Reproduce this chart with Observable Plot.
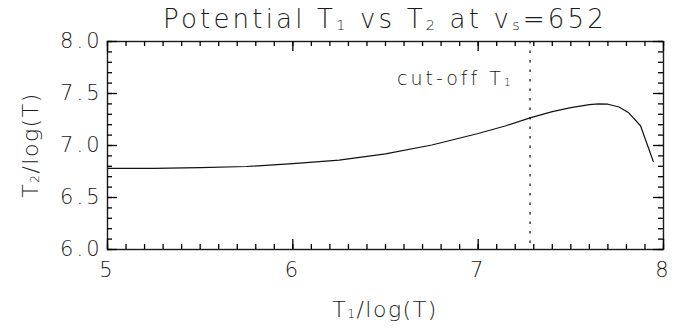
<!DOCTYPE html>
<html>
<head>
<meta charset="utf-8">
<script src="https://cdn.jsdelivr.net/npm/d3@7"></script>
<script src="https://cdn.jsdelivr.net/npm/@observablehq/plot@0.6"></script>
<style>
  html, body { margin: 0; padding: 0; background: #fff; }
  #chart svg { display: block; background: #fff; font-family: 'DejaVu Sans', sans-serif; }
</style>
</head>
<body>
<div id="chart"></div>
<script>
// Potential T1 (log T) against the resulting T2 (log T) for a shock speed of 652
const t1 = [5.00, 5.25, 5.50, 5.75, 6.00, 6.25, 6.50, 6.75, 7.00, 7.15, 7.28, 7.40, 7.50, 7.60, 7.65, 7.70, 7.76, 7.81, 7.876, 7.945];
const t2 = [6.780, 6.781, 6.787, 6.798, 6.825, 6.860, 6.920, 7.005, 7.115, 7.190, 7.265, 7.325, 7.365, 7.393, 7.400, 7.397, 7.370, 7.318, 7.190, 6.846];
const cutoffT1 = 7.28;
const shockSpeed = 652;

const xMajor = [5, 6, 7, 8];
const yMajor = [6.0, 6.5, 7.0, 7.5, 8.0];
const xMinor = d3.range(50, 81).map(i => i / 10);
const yMinor = d3.range(60, 81).map(i => i / 10);

const data = t1.map((x, i) => ({x, y: t2[i]}));

const W = 697, H = 335;
const mL = 107, mR = 34, mT = 41, mB = 86;
const plotW = W - mL - mR, plotH = H - mT - mB;
const FONT = "'DejaVu Sans', sans-serif";
const WEIGHT = 200;
const INK = "#1a1a1a";
const majorLen = 10, minorLen = 5;

const tickStyle = {stroke: "#000", strokeWidth: 1.3};
const labelStyle = {fill: INK, fontSize: 21, fontFamily: FONT, fontWeight: WEIGHT};

const chart = Plot.plot({
  width: W,
  height: H,
  marginLeft: mL,
  marginRight: mR,
  marginTop: mT,
  marginBottom: mB,
  x: {domain: [5, 8], axis: null},
  y: {domain: [6, 8], axis: null},
  marks: [
    // tick labels
    Plot.text(xMajor, {x: d => d, frameAnchor: "bottom", lineAnchor: "top", dy: 13, text: d => String(d), ...labelStyle}),
    Plot.text(yMajor, {y: d => d, frameAnchor: "left", textAnchor: "end", dx: -5, text: d3.format(".1f"), ...labelStyle}),
    Plot.ruleX([cutoffT1], {x: d => d, stroke: INK, strokeWidth: 1.3, strokeDasharray: "2.5,7"}),
    Plot.line(data, {x: "x", y: "y", stroke: "#111", strokeWidth: 1.2}),
    Plot.frame({stroke: INK, strokeWidth: 1.4}),
    // inward ticks on all four sides: minor every 0.1, major at the labelled values
    Plot.ruleX(xMinor, {x: d => d, insetTop: plotH - minorLen, ...tickStyle}),
    Plot.ruleX(xMinor, {x: d => d, insetBottom: plotH - minorLen, ...tickStyle}),
    Plot.ruleX(xMajor, {x: d => d, insetTop: plotH - majorLen, ...tickStyle}),
    Plot.ruleX(xMajor, {x: d => d, insetBottom: plotH - majorLen, ...tickStyle}),
    Plot.ruleY(yMinor, {y: d => d, insetRight: plotW - minorLen, ...tickStyle}),
    Plot.ruleY(yMinor, {y: d => d, insetLeft: plotW - minorLen, ...tickStyle}),
    Plot.ruleY(yMajor, {y: d => d, insetRight: plotW - majorLen, ...tickStyle}),
    Plot.ruleY(yMajor, {y: d => d, insetLeft: plotW - majorLen, ...tickStyle})
  ]
});

document.getElementById("chart").append(chart);

const svg = d3.select(chart);
svg.selectAll("text").style("letter-spacing", "3px");

// text with subscripts: parts are [string, isSubscript]
function richText(x, y, size, parts, opts = {}) {
  const t = svg.append("text")
    .attr("x", x).attr("y", y)
    .attr("font-family", FONT)
    .attr("font-weight", WEIGHT)
    .attr("font-size", size)
    .attr("fill", INK)
    .attr("text-anchor", opts.anchor || "middle")
    .style("letter-spacing", opts.spacing || "1px");
  if (opts.rotate) t.attr("transform", `rotate(${opts.rotate},${x},${y})`);
  const subSize = size * 0.55;
  const drop = size * 0.06;
  let lowered = false;
  parts.forEach(([s, sub]) => {
    const span = t.append("tspan").text(s);
    if (sub) {
      span.attr("font-size", subSize).attr("dy", lowered ? 0 : drop);
      lowered = true;
    } else if (lowered) {
      span.attr("dy", -drop);
      lowered = false;
    }
  });
  return t;
}

const cx = mL + plotW / 2;
richText(cx, 28, 26, [["Potential T"], ["1", true], [" vs T"], ["2", true], [" at v"], ["s", true], ["=" + shockSpeed]], {spacing: "3.2px"});
richText(cx, 317, 22, [["T"], ["1", true], ["/log(T)"]], {spacing: "1.5px"});
richText(38, mT + plotH / 2, 22, [["T"], ["2", true], ["/log(T)"]], {rotate: -90, spacing: "1.5px"});

const xs = chart.scale("x");
richText(xs.apply(cutoffT1) - 16, 85, 19, [["cut-off T"], ["1", true]], {anchor: "end", spacing: "3px"});
</script>
</body>
</html>
